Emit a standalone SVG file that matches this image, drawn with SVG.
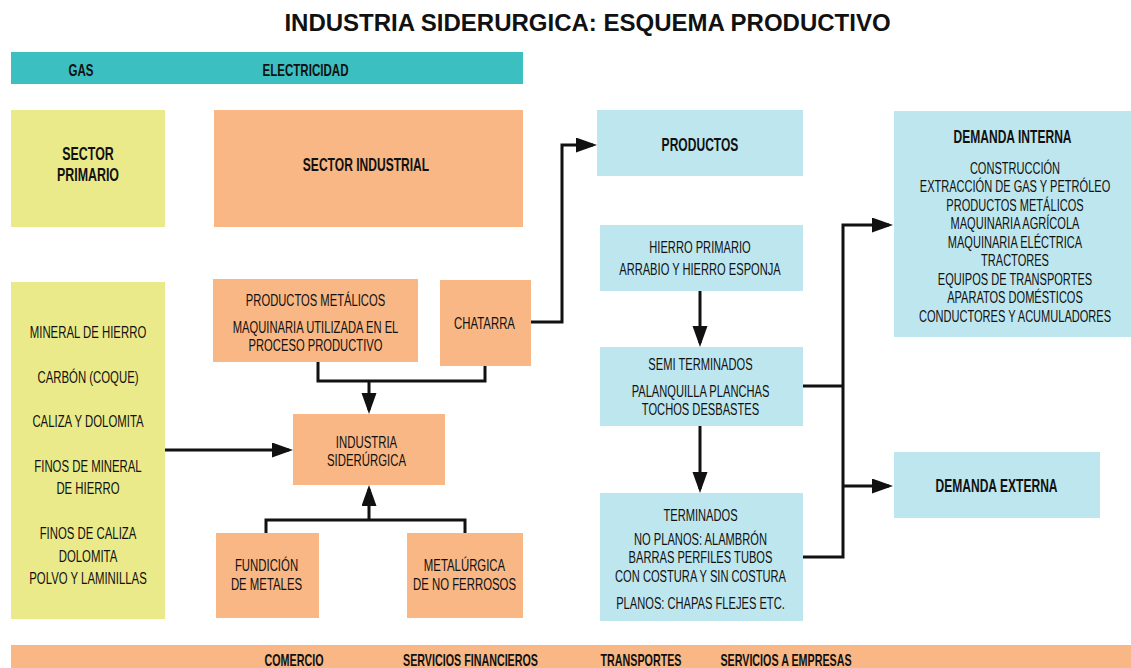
<svg xmlns="http://www.w3.org/2000/svg" width="1131" height="668" viewBox="0 0 1131 668">
<style>
.bg{fill:#ffffff}
.teal{fill:#3bbfc1}
.yel{fill:#ebea8a}
.org{fill:#f8b784}
.blu{fill:#bee6ee}
text{font-family:"Liberation Sans",Arial,sans-serif;fill:#111111;text-anchor:middle}
.t{font-size:16.5px}
.b{font-size:18px;font-weight:bold}
.bs{font-size:16.5px;font-weight:bold}
.title{font-size:24px;font-weight:bold}
.ln{fill:none;stroke:#111111;stroke-width:3}
</style>
<defs>
<marker id="ah" markerUnits="userSpaceOnUse" markerWidth="22" markerHeight="16" refX="17" refY="7.5" orient="auto">
<path d="M0,0 L21,7.5 L0,15 z" fill="#111111"/>
</marker>
</defs>
<rect class="bg" x="0" y="0" width="1131" height="668"/>
<text class="title" x="587.5" y="31">INDUSTRIA SIDERURGICA: ESQUEMA PRODUCTIVO</text>

<g id="energia">
<rect class="teal" x="11" y="52" width="512" height="32"/>
<g transform="translate(81 0) scale(0.7 1)"><text class="bs" x="0" y="76">GAS</text></g>
<g transform="translate(305.5 0) scale(0.7 1)"><text class="bs" x="0" y="76">ELECTRICIDAD</text></g>
</g>

<g id="sector-primario">
<rect class="yel" x="11" y="110" width="154" height="117"/>
<g transform="translate(88 0) scale(0.69 1)"><text class="b" x="0" y="160.5">SECTOR</text><text class="b" x="0" y="181.5">PRIMARIO</text></g>
</g>

<g id="sector-industrial">
<rect class="org" x="214" y="110" width="309" height="117"/>
<g transform="translate(366 0) scale(0.67 1)"><text class="b" x="0" y="171.5">SECTOR INDUSTRIAL</text></g>
</g>

<g id="materias-primas">
<rect class="yel" x="11" y="282" width="154" height="337"/>
<g transform="translate(88 0) scale(0.69 1)">
<text class="t" x="0" y="338">MINERAL DE HIERRO</text>
<text class="t" x="0" y="383">CARBÓN (COQUE)</text>
<text class="t" x="0" y="427.5">CALIZA Y DOLOMITA</text>
<text class="t" x="0" y="472.5">FINOS DE MINERAL</text>
<text class="t" x="0" y="494.5">DE HIERRO</text>
<text class="t" x="0" y="539.5">FINOS DE CALIZA</text>
<text class="t" x="0" y="562">DOLOMITA</text>
<text class="t" x="0" y="584.5">POLVO Y LAMINILLAS</text>
</g>
</g>

<g id="productos-metalicos">
<rect class="org" x="213" y="279" width="205" height="83"/>
<g transform="translate(315.5 0) scale(0.68 1)">
<text class="t" x="0" y="306">PRODUCTOS METÁLICOS</text>
<text class="t" x="0" y="333">MAQUINARIA UTILIZADA EN EL</text>
<text class="t" x="0" y="351.5">PROCESO PRODUCTIVO</text>
</g>
</g>

<g id="chatarra">
<rect class="org" x="440" y="280" width="91" height="86"/>
<g transform="translate(484.5 0) scale(0.69 1)"><text class="t" x="0" y="329">CHATARRA</text></g>
</g>

<g id="industria-siderurgica">
<rect class="org" x="293" y="414" width="152" height="71"/>
<g transform="translate(366.5 0) scale(0.69 1)">
<text class="t" x="0" y="448">INDUSTRIA</text>
<text class="t" x="0" y="466">SIDERÚRGICA</text>
</g>
</g>

<g id="fundicion">
<rect class="org" x="216" y="533" width="103" height="85"/>
<g transform="translate(266.5 0) scale(0.69 1)">
<text class="t" x="0" y="571.5">FUNDICIÓN</text>
<text class="t" x="0" y="590.5">DE METALES</text>
</g>
</g>

<g id="metalurgica">
<rect class="org" x="407" y="533" width="116" height="85"/>
<g transform="translate(464.5 0) scale(0.69 1)">
<text class="t" x="0" y="571.5">METALÚRGICA</text>
<text class="t" x="0" y="590.5">DE NO FERROSOS</text>
</g>
</g>

<g id="productos">
<rect class="blu" x="597" y="110" width="206" height="66"/>
<g transform="translate(700 0) scale(0.67 1)"><text class="b" x="0" y="151.5">PRODUCTOS</text></g>
</g>

<g id="hierro-primario">
<rect class="blu" x="600" y="225" width="203" height="66"/>
<g transform="translate(700 0) scale(0.675 1)">
<text class="t" x="0" y="253">HIERRO PRIMARIO</text>
<text class="t" x="0" y="275">ARRABIO Y HIERRO ESPONJA</text>
</g>
</g>

<g id="semi-terminados">
<rect class="blu" x="600" y="347" width="203" height="79"/>
<g transform="translate(700.5 0) scale(0.675 1)">
<text class="t" x="0" y="370">SEMI TERMINADOS</text>
<text class="t" x="0" y="397">PALANQUILLA PLANCHAS</text>
<text class="t" x="0" y="415">TOCHOS DESBASTES</text>
</g>
</g>

<g id="terminados">
<rect class="blu" x="600" y="493" width="203" height="128"/>
<g transform="translate(700.5 0) scale(0.675 1)">
<text class="t" x="0" y="521">TERMINADOS</text>
<text class="t" x="0" y="545">NO PLANOS: ALAMBRÓN</text>
<text class="t" x="0" y="563.5">BARRAS PERFILES TUBOS</text>
<text class="t" x="0" y="582">CON COSTURA Y SIN COSTURA</text>
<text class="t" x="0" y="609">PLANOS: CHAPAS FLEJES ETC.</text>
</g>
</g>

<g id="demanda-interna">
<rect class="blu" x="894" y="111" width="237" height="226"/>
<g transform="translate(1012.5 0) scale(0.67 1)"><text class="b" x="0" y="143.5">DEMANDA INTERNA</text></g>
<g transform="translate(1015 0) scale(0.67 1)">
<text class="t" x="0" y="174">CONSTRUCCIÓN</text>
<text class="t" x="0" y="192.5">EXTRACCIÓN DE GAS Y PETRÓLEO</text>
<text class="t" x="0" y="211">PRODUCTOS METÁLICOS</text>
<text class="t" x="0" y="229.5">MAQUINARIA AGRÍCOLA</text>
<text class="t" x="0" y="248">MAQUINARIA ELÉCTRICA</text>
<text class="t" x="0" y="266.5">TRACTORES</text>
<text class="t" x="0" y="285">EQUIPOS DE TRANSPORTES</text>
<text class="t" x="0" y="303.5">APARATOS DOMÉSTICOS</text>
<text class="t" x="0" y="322">CONDUCTORES Y ACUMULADORES</text>
</g>
</g>

<g id="demanda-externa">
<rect class="blu" x="894" y="452" width="206" height="66"/>
<g transform="translate(996.5 0) scale(0.67 1)"><text class="b" x="0" y="492.5">DEMANDA EXTERNA</text></g>
</g>

<g id="servicios">
<rect class="org" x="11" y="645" width="1120" height="23"/>
<g transform="translate(294 0) scale(0.65 1)"><text class="bs" x="0" y="666">COMERCIO</text></g>
<g transform="translate(470.5 0) scale(0.65 1)"><text class="bs" x="0" y="666">SERVICIOS FINANCIEROS</text></g>
<g transform="translate(641 0) scale(0.65 1)"><text class="bs" x="0" y="666">TRANSPORTES</text></g>
<g transform="translate(786 0) scale(0.65 1)"><text class="bs" x="0" y="666">SERVICIOS A EMPRESAS</text></g>
</g>

<g id="connectors">
<path class="ln" d="M165,450 H289" marker-end="url(#ah)"/>
<path class="ln" d="M318,362 V381 H485 V366"/>
<path class="ln" d="M369,381 V410" marker-end="url(#ah)"/>
<path class="ln" d="M266,533 V520 H465 V533"/>
<path class="ln" d="M369,520 V489" marker-end="url(#ah)"/>
<path class="ln" d="M531,322 H562 V145 H593" marker-end="url(#ah)"/>
<path class="ln" d="M700,291 V343" marker-end="url(#ah)"/>
<path class="ln" d="M700,426 V489" marker-end="url(#ah)"/>
<path class="ln" d="M803,386 H843"/>
<path class="ln" d="M803,557 H843 V225 H889" marker-end="url(#ah)"/>
<path class="ln" d="M843,486 H889" marker-end="url(#ah)"/>
</g>
</svg>
